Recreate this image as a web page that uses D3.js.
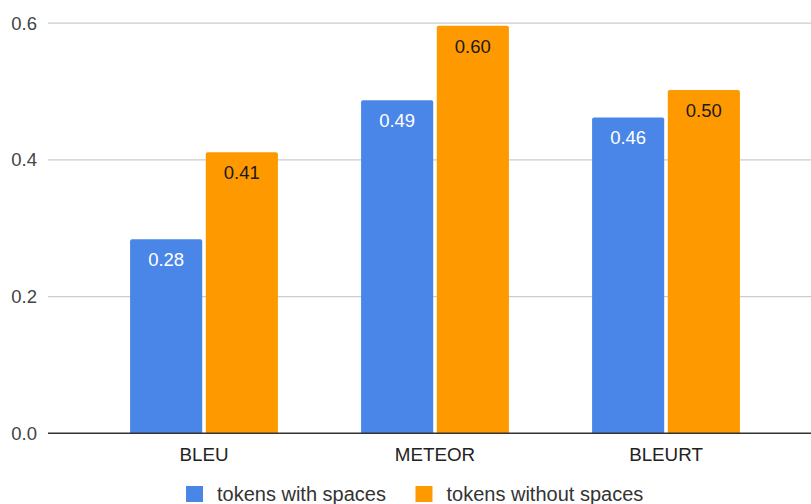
<!DOCTYPE html>
<html>
<head>
<meta charset="utf-8">
<script src="https://cdn.jsdelivr.net/npm/d3@7"></script>
<style>
  html, body { margin: 0; padding: 0; background: #fff; }
  svg { display: block; font-family: "Liberation Sans", Arial, sans-serif; }
</style>
</head>
<body>
<svg id="chart" width="811" height="504"></svg>
<script>
// Scores per metric for the two tokenisation variants
const metrics = ["BLEU", "METEOR", "BLEURT"];
const seriesNames = ["tokens with spaces", "tokens without spaces"];
const withSpaces = [0.284, 0.487, 0.462];
const withoutSpaces = [0.411, 0.596, 0.502];
const yTicks = [0.0, 0.2, 0.4, 0.6];

const colors = ["#4a86e8", "#ff9900"];
const labelColors = ["#ffffff", "#1a1a1a"];

const rows = metrics.map((m, i) => ({
  metric: m,
  values: [withSpaces[i], withoutSpaces[i]]
}));

const svg = d3.select("#chart");
const plotLeft = 48, plotRight = 811;

const y = d3.scaleLinear().domain([0, 0.6]).range([433.3, 23.1]);

const x0 = d3.scaleBand()
  .domain(metrics)
  .range([88.5, 781.5])
  .paddingInner(0.36)
  .paddingOuter(0.18);

const x1 = d3.scaleBand()
  .domain(d3.range(seriesNames.length))
  .range([0, x0.bandwidth()])
  .paddingInner(0.047)
  .paddingOuter(0);

// Gridlines
svg.append("g")
  .selectAll("line")
  .data(yTicks.filter(t => t > 0))
  .join("line")
  .attr("x1", plotLeft).attr("x2", plotRight)
  .attr("y1", d => y(d)).attr("y2", d => y(d))
  .attr("stroke", "#cccccc")
  .attr("stroke-width", 1.2);

// Y tick labels
const yAxis = d3.axisLeft(y).tickValues(yTicks).tickFormat(d3.format(".1f")).tickSize(0).tickPadding(11);
const yG = svg.append("g").attr("transform", `translate(${plotLeft},0)`).call(yAxis);
yG.select(".domain").remove();
yG.selectAll("text")
  .attr("font-size", 18.5)
  .attr("font-family", "'Liberation Sans', Arial, sans-serif")
  .attr("fill", "#444444");

// Bars with slightly rounded top corners
function barPath(x, yTop, w, yBase, r) {
  return `M${x},${yBase}V${yTop + r}Q${x},${yTop} ${x + r},${yTop}` +
         `H${x + w - r}Q${x + w},${yTop} ${x + w},${yTop + r}V${yBase}Z`;
}

const groups = svg.append("g")
  .selectAll("g")
  .data(rows)
  .join("g")
  .attr("transform", d => `translate(${x0(d.metric)},0)`);

groups.selectAll("path")
  .data(d => d.values.map((v, k) => ({ v, k })))
  .join("path")
  .attr("d", d => barPath(x1(d.k), y(d.v), x1.bandwidth(), y(0), 2))
  .attr("fill", d => colors[d.k]);

groups.selectAll("text")
  .data(d => d.values.map((v, k) => ({ v, k })))
  .join("text")
  .attr("x", d => x1(d.k) + x1.bandwidth() / 2)
  .attr("y", d => y(d.v) + 27)
  .attr("text-anchor", "middle")
  .attr("font-size", 18.5)
  .attr("fill", d => labelColors[d.k])
  .text(d => d3.format(".2f")(d.v));

// Baseline
svg.append("line")
  .attr("x1", plotLeft).attr("x2", plotRight)
  .attr("y1", y(0)).attr("y2", y(0))
  .attr("stroke", "#333333")
  .attr("stroke-width", 1.5);

// Category labels
const xAxis = d3.axisBottom(x0).tickSize(0).tickPadding(0);
const xG = svg.append("g").attr("transform", `translate(0,${y(0)})`).call(xAxis);
xG.select(".domain").remove();
xG.selectAll("text")
  .attr("dy", null)
  .attr("y", 27.5)
  .attr("font-size", 18.8)
  .attr("font-family", "'Liberation Sans', Arial, sans-serif")
  .attr("fill", "#222222");

// Legend
const legend = svg.append("g");
let lx = 186;
seriesNames.forEach((name, k) => {
  legend.append("rect")
    .attr("x", lx).attr("y", 486)
    .attr("width", 17).attr("height", 16)
    .attr("fill", colors[k]);
  const t = legend.append("text")
    .attr("x", lx + 31).attr("y", 501)
    .attr("font-size", 20)
    .attr("fill", "#333333")
    .text(name);
  lx += 31 + t.node().getComputedTextLength() + 29.5;
});
</script>
</body>
</html>
